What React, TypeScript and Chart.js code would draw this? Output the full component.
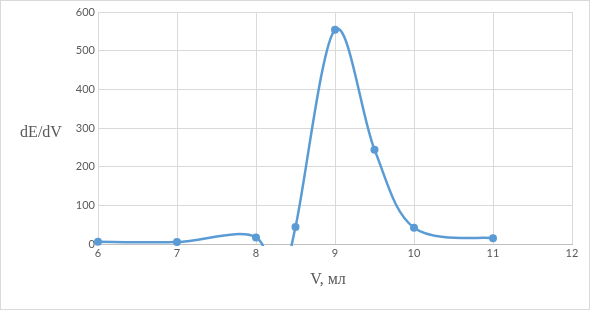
import React, { useEffect, useRef } from "react";
import { Chart, registerables } from "chart.js";

Chart.register(...registerables);

// Titration derivative data. The point at 8.25 lies below the axis (hidden by the y-axis minimum).
const volumes = [6, 7, 8, 8.25, 8.5, 9, 9.5, 10, 11];
const dEdV = [6, 5, 17, -140, 44, 554, 244, 42, 15];
const xTitle = "V, мл";
const yTitle = "dE/dV";

// Excel-style smoothing: Bezier control points from neighbouring points (1/6 rule, capped).
const excelSmoothPlugin = {
  id: "excelSmooth",
  beforeDatasetsDraw(chart: any) {
    chart.data.datasets.forEach((_ds: any, di: number) => {
      const meta = chart.getDatasetMeta(di);
      const pts = meta.data as any[];
      const n = pts.length;
      const dist = (a: any, b: any) => Math.hypot(b.x - a.x, b.y - a.y);
      for (let i = 0; i < n - 1; i++) {
        const p1 = pts[i];
        const p2 = pts[i + 1];
        const p0 = i > 0 ? pts[i - 1] : p1;
        const p3 = i + 2 < n ? pts[i + 2] : p2;
        const d02 = dist(p0, p2);
        const d12 = dist(p1, p2);
        const d13 = dist(p1, p3);
        let f0 = 1 / 6;
        let f3 = 1 / 6;
        if (d02 > 0 && d02 / 6 > d12 / 2) f0 = d12 / (2 * d02);
        if (d13 > 0 && d13 / 6 > d12 / 2) f3 = d12 / (2 * d13);
        p1.cp2x = p1.x + f0 * (p2.x - p0.x);
        p1.cp2y = p1.y + f0 * (p2.y - p0.y);
        p2.cp1x = p2.x - f3 * (p3.x - p1.x);
        p2.cp1y = p2.y - f3 * (p3.y - p1.y);
      }
      if (n) {
        pts[0].cp1x = pts[0].x;
        pts[0].cp1y = pts[0].y;
        pts[n - 1].cp2x = pts[n - 1].x;
        pts[n - 1].cp2y = pts[n - 1].y;
      }
      if (meta.dataset) {
        meta.dataset._pointsUpdated = true;
        meta.dataset._path = undefined;
      }
    });
  },
};

const titlesPlugin = {
  id: "titlesAndFrame",
  afterDraw(chart: any) {
    const ctx = chart.ctx;
    const { chartArea } = chart;
    ctx.save();
    ctx.strokeStyle = "#d9d9d9";
    ctx.lineWidth = 1;
    ctx.strokeRect(0.5, 0.5, chart.width - 1, chart.height - 1);
    ctx.fillStyle = "#595959";
    ctx.font = "16px 'Liberation Serif'";
    ctx.textAlign = "center";
    ctx.textBaseline = "middle";
    ctx.fillText(yTitle, 41, 133);
    ctx.fillText(xTitle, (chartArea.left + chartArea.right) / 2 - 7, 280);
    ctx.restore();
  },
};

export default function App() {
  const ref = useRef<HTMLCanvasElement>(null);
  useEffect(() => {
    if (!ref.current) return;
    const chart = new Chart(ref.current, {
      type: "line",
      data: {
        datasets: [
          {
            data: volumes.map((v, i) => ({ x: v, y: dEdV[i] })),
            borderColor: "#5b9bd5",
            backgroundColor: "#5b9bd5",
            borderWidth: 2.5,
            pointRadius: 4,
            pointBorderWidth: 0,
            pointBackgroundColor: "#5b9bd5",
            tension: 0.4,
            capBezierPoints: false,
            clip: { left: 10, right: 10, top: 10, bottom: 2 } as any,
          } as any,
        ],
      },
      options: {
        animation: false,
        responsive: false,
        devicePixelRatio: 1,
        layout: { padding: { top: 12, right: 18, bottom: 0, left: 0 } },
        plugins: { legend: { display: false }, tooltip: { enabled: false } },
        scales: {
          x: {
            type: "linear",
            min: 6,
            max: 12,
            ticks: {
              stepSize: 1,
              color: "#595959",
              font: { family: "Lato", size: 11 },
              padding: 3,
            },
            grid: { color: "#d9d9d9", drawTicks: false },
            border: { color: "#bfbfbf" },
            afterFit: (s: any) => {
              s.height = 66;
            },
          },
          y: {
            min: 0,
            max: 600,
            ticks: {
              stepSize: 100,
              color: "#595959",
              font: { family: "Lato", size: 11 },
              padding: 3,
            },
            grid: { color: "#d9d9d9", drawTicks: false },
            border: { color: "#d9d9d9" },
            afterFit: (s: any) => {
              s.width = 98;
            },
          },
        },
      },
      plugins: [excelSmoothPlugin, titlesPlugin],
    });
    return () => chart.destroy();
  }, []);
  return (
    <div style={{ position: "fixed", left: 0, top: 0, width: 590, height: 310, background: "#fff" }}>
      <canvas ref={ref} width={590} height={310} style={{ display: "block" }} />
    </div>
  );
}
